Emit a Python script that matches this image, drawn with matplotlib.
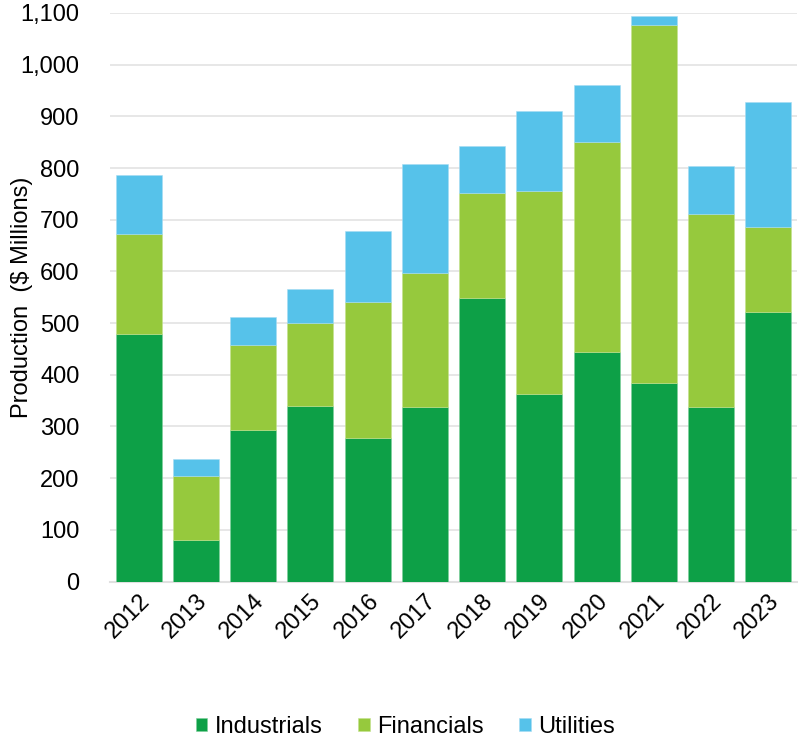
import matplotlib.pyplot as plt
import numpy as np
from matplotlib.ticker import FuncFormatter

plt.rcParams['font.family'] = ['Liberation Sans', 'DejaVu Sans']

years = ["2012", "2013", "2014", "2015", "2016", "2017", "2018", "2019", "2020", "2021", "2022", "2023"]
industrials = [479, 81, 293, 339, 277, 338, 548, 362, 445, 385, 338, 522]
financials = [194, 124, 165, 161, 263, 259, 204, 394, 406, 692, 374, 164]
utilities = [113, 32, 54, 65, 138, 211, 90, 154, 109, 17, 91, 241]

c_ind = "#0da047"
c_fin = "#96c93d"
c_uti = "#56c2ea"

fig = plt.figure(figsize=(7.98, 7.43), dpi=100)
ax = fig.add_axes([110/798, 1-581.5/743, 687/798, (581.5-13)/743])

x = np.arange(len(years))
ind = np.array(industrials)
fin = np.array(financials)
uti = np.array(utilities)

ax.bar(x, ind, 0.8, color=c_ind, label="Industrials", zorder=3, edgecolor="#7fcf9c", linewidth=0.4)
ax.bar(x, fin, 0.8, bottom=ind, color=c_fin, label="Financials", zorder=3, edgecolor="#c3e28d", linewidth=0.4)
ax.bar(x, uti, 0.8, bottom=ind+fin, color=c_uti, label="Utilities", zorder=3, edgecolor="#a6dcf3", linewidth=0.4)

ax.set_xlim(-0.5, len(years)-0.5)
ax.set_ylim(0, 1100)
ax.set_yticks(np.arange(0, 1101, 100))
ax.yaxis.set_major_formatter(FuncFormatter(lambda v, p: "{:,.0f}".format(v)))
ax.grid(axis="y", color="#e3e3e3", linewidth=1.2, zorder=0)
ax.set_axisbelow(True)

for s in ["top", "right", "left"]:
    ax.spines[s].set_visible(False)
ax.spines["bottom"].set_color("#e0e0e0")
ax.spines["bottom"].set_linewidth(1.5)

ax.set_xticks(x)
ax.set_xticklabels(years, rotation=45, ha="right", rotation_mode="anchor")
ax.tick_params(axis="y", length=0, pad=22, labelsize=17)
ax.tick_params(axis="x", length=0, pad=6, labelsize=17)

ax.set_ylabel("Production  ($ Millions)", fontsize=17)
ax.yaxis.set_label_coords(-0.112, 0.5)

fig.legend(loc="center", bbox_to_anchor=(405/798, 1-727/743), ncol=3, frameon=False,
           fontsize=17, handlelength=0.5, handleheight=0.5, handletextpad=0.3, columnspacing=1.5)

fig.savefig("out.png", dpi=100)
